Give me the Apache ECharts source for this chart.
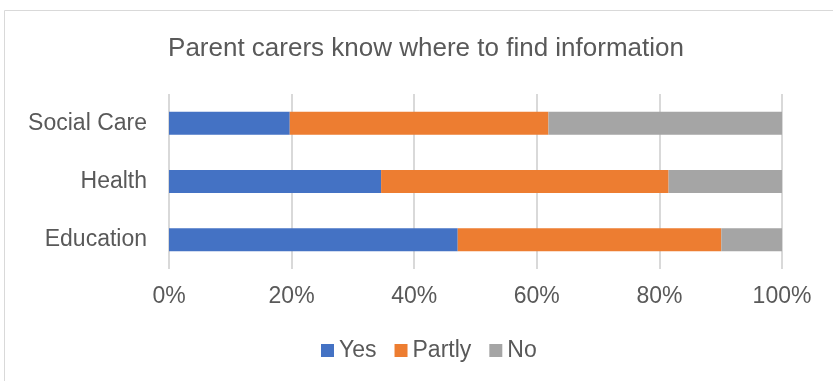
<!DOCTYPE html>
<html>
<head>
<meta charset="utf-8">
<script src="https://cdn.jsdelivr.net/npm/echarts@6/dist/echarts.min.js"></script>
<style>
  html, body { margin: 0; padding: 0; background: #fff; }
  #chart { width: 833px; height: 381px; }
</style>
</head>
<body>
<div id="chart"></div>
<script>
// 分类（从下到上）
const categories = ["Education", "Health", "Social Care"];
// 各系列百分比
const yesData = [47.1, 34.6, 19.7];
const partlyData = [43.0, 46.9, 42.2];
const noData = [9.9, 18.5, 38.1];
const xTicks = [0, 20, 40, 60, 80, 100];

function setBar() {
  let myChart = echarts.init(document.querySelector("#chart"));
  const font = "Liberation Sans, Arial, sans-serif";
  let option = {
    animation: false,
    textStyle: { fontFamily: font },
    // 外框
    graphic: [
      {
        type: "rect",
        shape: { x: 4.5, y: 10.5, width: 900, height: 500 },
        style: { fill: "none", stroke: "#d9d9d9", lineWidth: 1 },
      },
    ],
    title: {
      text: "Parent carers know where to find information",
      left: 421,
      textAlign: "center",
      top: 31,
      textStyle: {
        color: "#595959",
        fontSize: 26,
        fontWeight: "normal",
        fontFamily: font,
      },
    },
    grid: {
      top: 94,
      bottom: 112,
      left: 169,
      right: 51,
    },
    legend: {
      top: 334,
      left: 316,
      itemWidth: 13,
      itemHeight: 13,
      itemGap: 18,
      icon: "rect",
      textStyle: { color: "#595959", fontSize: 23, fontFamily: font },
      data: ["Yes", "Partly", "No"],
    },
    xAxis: {
      type: "value",
      min: xTicks[0],
      max: xTicks[xTicks.length - 1],
      interval: 20,
      axisLine: { show: false },
      axisTick: { show: false },
      splitLine: { lineStyle: { color: "#d9d9d9", width: 2 } },
      axisLabel: {
        formatter: "{value}%",
        color: "#595959",
        fontSize: 23,
        margin: 16,
        fontFamily: font,
      },
    },
    yAxis: {
      type: "category",
      data: categories,
      axisLine: { show: false },
      axisTick: { show: false },
      axisLabel: {
        color: "#595959",
        fontSize: 23,
        margin: 22,
        fontFamily: font,
      },
    },
    series: [
      {
        name: "Yes",
        type: "bar",
        stack: "total",
        barWidth: 23,
        itemStyle: { color: "#4472c4" },
        data: yesData,
      },
      {
        name: "Partly",
        type: "bar",
        stack: "total",
        barWidth: 23,
        itemStyle: { color: "#ed7d31" },
        data: partlyData,
      },
      {
        name: "No",
        type: "bar",
        stack: "total",
        barWidth: 23,
        itemStyle: { color: "#a5a5a5" },
        data: noData,
      },
    ],
  };
  myChart.setOption(option);
}
//调用
setBar();
</script>
</body>
</html>
